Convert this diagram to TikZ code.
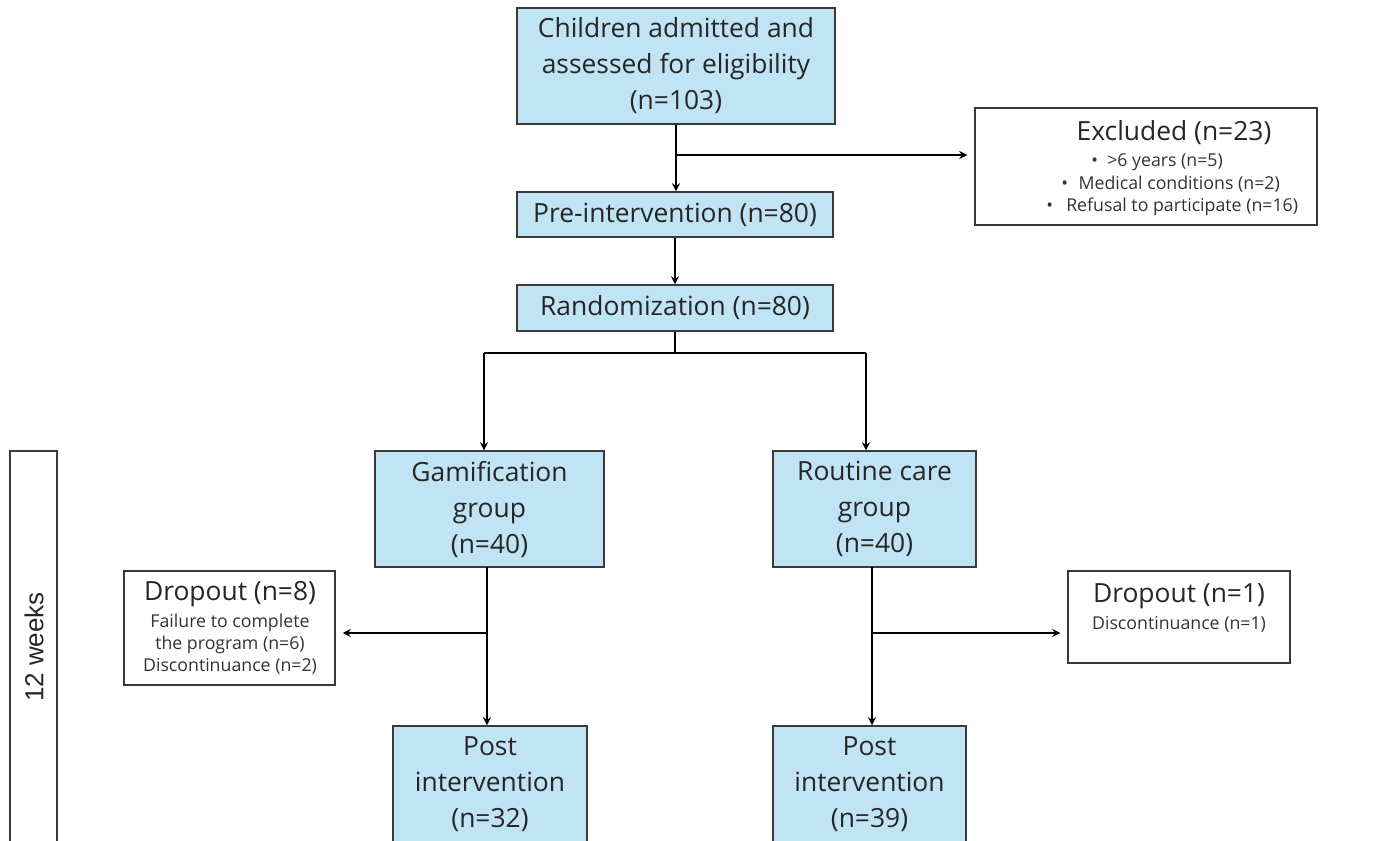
\documentclass[tikz,border=0pt]{standalone}
\usepackage{fontspec}
\setmainfont{Open Sans}
\newfontfamily\arialfont{Liberation Sans}
\usetikzlibrary{arrows.meta}
\newdimen\pxu \pxu=0.75pt
\definecolor{boxblue}{HTML}{C1E4F5}
\definecolor{txt}{HTML}{262626}
\definecolor{txtsmall}{HTML}{333333}
\definecolor{edge}{HTML}{3A3A3A}
\tikzset{
  bigfont/.style={font=\fontsize{19.8}{27}\selectfont},
  smallfont/.style={font=\fontsize{13.3}{16.5}\selectfont},
  bluebox/.style={draw=edge, fill=boxblue, line width=1.1pt, align=center, inner sep=0pt, text=txt, bigfont},
  whitebox/.style={draw=edge, fill=white, line width=1.1pt, align=center, inner sep=0pt, text=txt},
  title/.style={text=txt, align=center, bigfont, inner sep=0pt},
  small/.style={text=txtsmall, align=center, smallfont, inner sep=0pt},
  conn/.style={line width=1.4pt, draw=black},
  arr/.style={conn, -{Stealth[length=6pt, width=6pt]}},
  gap/.style={shorten >=5.25pt},
}
\begin{document}
\begin{tikzpicture}[x=0.75pt, y=-0.75pt]
\clip (0,0) rectangle (1376,841);
\fill[white] (0,0) rectangle (1376,841);
% boxes
\node[bluebox, minimum width=318\pxu, minimum height=116\pxu] (top) at (676,66) {Children admitted and\\assessed for eligibility\\(n=103)};
\node[whitebox, minimum width=342\pxu, minimum height=117\pxu] (excl) at (1146,166.5) {};
\node[title] (exclt) at (1174,133) {Excluded (n=23)};
\node[small, anchor=west] (e1) at (1091,162) {\textbullet\hspace{7pt}>6 years (n=5)};
\node[small, anchor=west] (e2) at (1061,184) {\textbullet\hspace{8pt}Medical conditions (n=2)};
\node[small, anchor=west] (e3) at (1046,207) {\textbullet\hspace{10pt}Refusal to participate (n=16)};
\node[bluebox, minimum width=316\pxu, minimum height=45\pxu] (pre) at (675,214.5) {Pre-intervention (n=80)};
\node[bluebox, minimum width=316\pxu, minimum height=46\pxu] (rand) at (675,308) {Randomization (n=80)};
\node[bluebox, minimum width=229\pxu, minimum height=116\pxu] (gam) at (489.5,509) {Gamification\\group\\(n=40)};
\node[bluebox, minimum width=203\pxu, minimum height=116\pxu] (rout) at (874.5,509) {Routine care\\group\\(n=40)};
\node[whitebox, minimum width=211\pxu, minimum height=114\pxu] (dl) at (229.5,628) {};
\node[title] (dlt) at (230,594) {Dropout (n=8)};
\node[small, anchor=north] (dll) at (230,614) {Failure to complete\\the program (n=6)\\Discontinuance (n=2)};
\node[whitebox, minimum width=222\pxu, minimum height=92\pxu] (dr) at (1179,617) {};
\node[title] (drt) at (1179,596) {Dropout (n=1)};
\node[small] (drl) at (1179,624) {Discontinuance (n=1)};
\node[bluebox, minimum width=194\pxu, minimum height=117\pxu] (pl) at (490,784.5) {Post\\intervention\\(n=32)};
\node[bluebox, minimum width=193\pxu, minimum height=117\pxu] (pr) at (869.5,784.5) {Post\\intervention\\(n=39)};
\node[whitebox, minimum width=47\pxu, minimum height=449\pxu] (wk) at (33.5,675.5) {};
\node[text=txt, rotate=90, font=\arialfont\fontsize{19.5}{20}\selectfont] (wkt) at (34,647) {12 weeks};
% connectors
\coordinate (b1) at (676,155);
\draw[arr] (top.south) -- (top.south |- pre.north);
\draw[arr, gap] (b1) -- (b1 -| excl.west);
\draw[arr] (pre.south) -- (pre.south |- rand.north);
\coordinate (sm) at (676,353);
\coordinate (sl) at (484,353);
\coordinate (sr) at (866,353);
\draw[conn] (rand.south) -- (rand.south |- sm);
\draw[conn] (sl) -- (sr);
\draw[arr] (sl) -- (sl |- gam.north);
\draw[arr] (sr) -- (sr |- rout.north);
\coordinate (g0) at (487,567);
\coordinate (gb) at (487,633);
\draw[arr] (g0) -- (g0 |- pl.north);
\draw[arr, gap] (gb) -- (gb -| dl.east);
\coordinate (r0) at (872,567);
\coordinate (rb) at (872,633);
\draw[arr] (r0) -- (r0 |- pr.north);
\draw[arr, gap] (rb) -- (rb -| dr.west);
\end{tikzpicture}
\end{document}
